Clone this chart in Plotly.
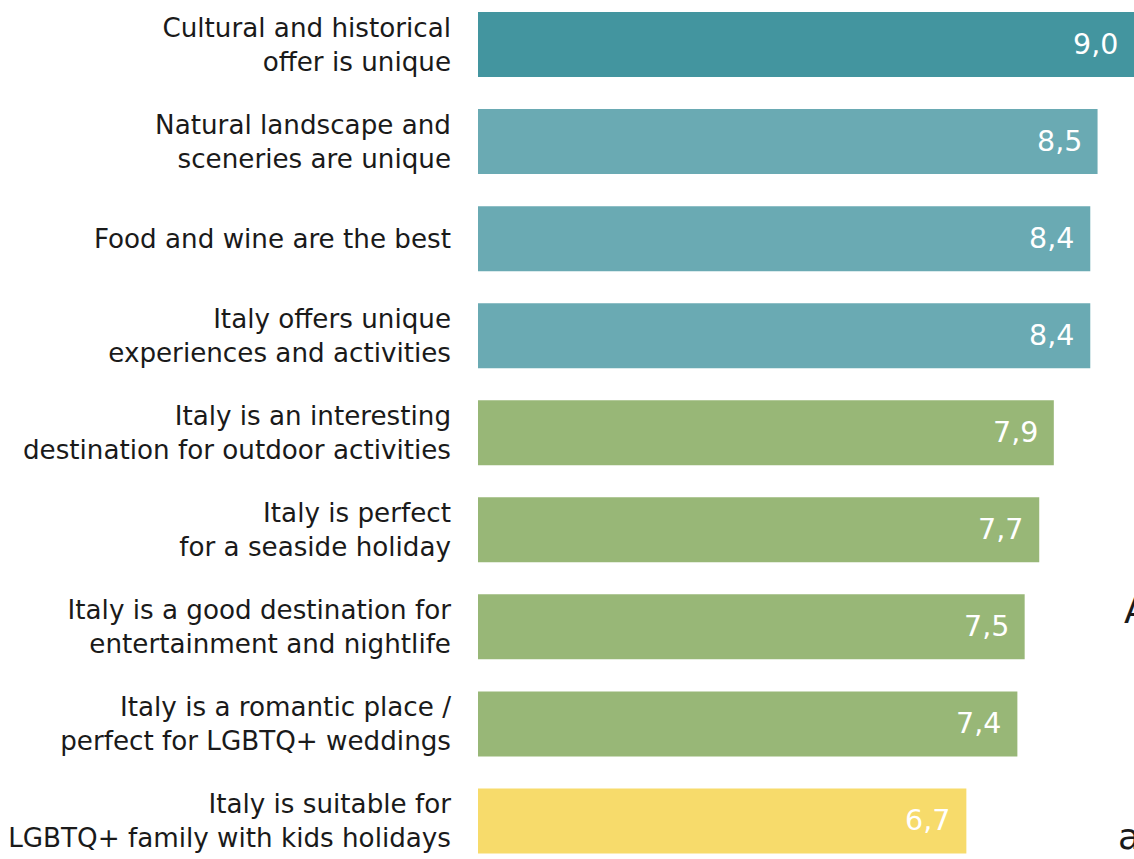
import plotly.graph_objects as go

# Agreement scores (0-10) for statements about Italy as a destination
statements = [
    "Cultural and historical<br>offer is unique",
    "Natural landscape and<br>sceneries are unique",
    "Food and wine are the best",
    "Italy offers unique<br>experiences and activities",
    "Italy is an interesting<br>destination for outdoor activities",
    "Italy is perfect<br>for a seaside holiday",
    "Italy is a good destination for<br>entertainment and nightlife",
    "Italy is a romantic place /<br>perfect for LGBTQ+ weddings",
    "Italy is suitable for<br>LGBTQ+ family with kids holidays",
]
scores = [9.0, 8.5, 8.4, 8.4, 7.9, 7.7, 7.5, 7.4, 6.7]
value_labels = ["9,0", "8,5", "8,4", "8,4", "7,9", "7,7", "7,5", "7,4", "6,7"]
bar_colors = [
    "#43959f",
    "#6aaab3", "#6aaab3", "#6aaab3",
    "#98b777", "#98b777", "#98b777", "#98b777",
    "#f7db6b",
]

FONT = "DejaVu Sans, Liberation Sans, sans-serif"

fig = go.Figure(
    go.Bar(
        x=scores,
        y=statements,
        orientation="h",
        marker=dict(color=bar_colors, line=dict(width=0)),
        hoverinfo="skip",
    )
)

# value labels inside the bar ends
for s, lab, v in zip(statements, value_labels, scores):
    fig.add_annotation(
        x=v, y=s, text=lab, showarrow=False,
        xanchor="right", yanchor="middle", xshift=-14,
        font=dict(family=FONT, size=28.5, color="white"),
    )

# fragments of neighbouring text at the right edge
fig.add_annotation(xref="paper", yref="paper", x=1.0, y=(859 - 611) / 859,
                   xanchor="left", yanchor="middle", xshift=-12,
                   text="A", showarrow=False,
                   font=dict(family=FONT, size=36, color="#1a1a1a"))
fig.add_annotation(xref="paper", yref="paper", x=1.0, y=(859 - 836) / 859,
                   xanchor="left", yanchor="middle", xshift=-18,
                   text="a", showarrow=False,
                   font=dict(family=FONT, size=36, color="#1a1a1a"))

fig.update_layout(
    width=1134, height=859,
    margin=dict(l=478, r=0, t=0, b=0, autoexpand=False),
    paper_bgcolor="white", plot_bgcolor="white",
    bargap=0.33,
    showlegend=False,
    xaxis=dict(range=[0, 9.0], visible=False, fixedrange=True, automargin=False),
    yaxis=dict(
        range=[8.392, -0.459],
        automargin=False,
        showgrid=False, zeroline=False, showline=False,
        ticks="", ticklabelstandoff=26,
        tickfont=dict(family=FONT, size=26.2, color="#1a1a1a"),
    ),
)

fig.write_html("out.html")
